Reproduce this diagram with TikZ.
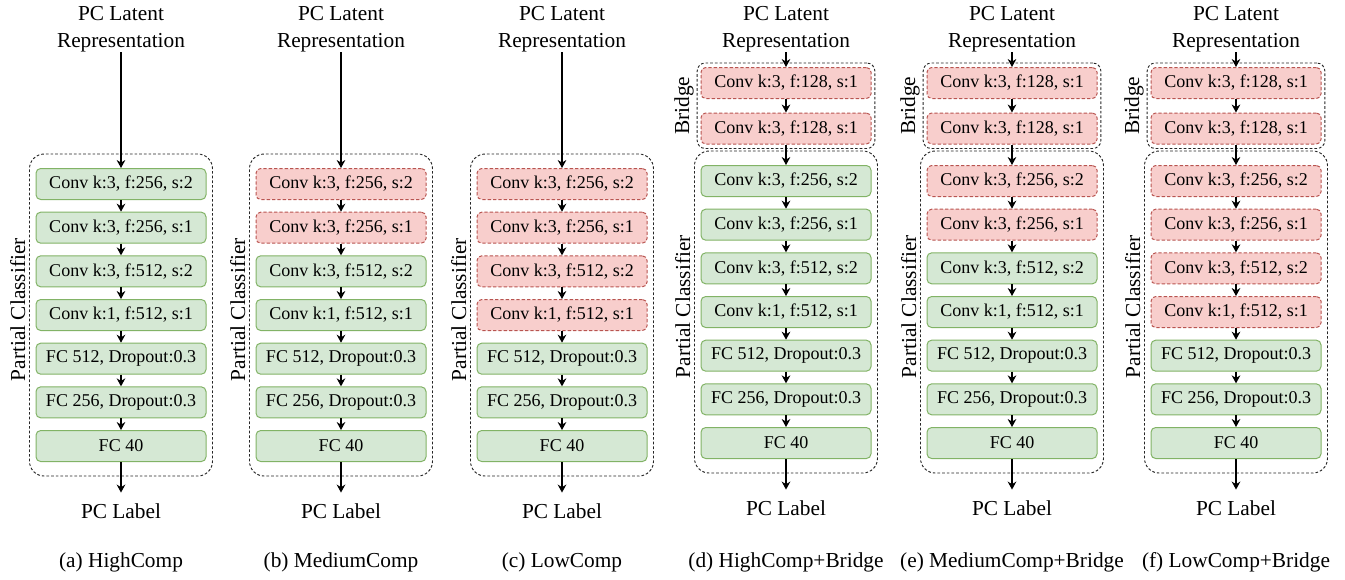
\documentclass[tikz,border=0pt]{standalone}
\usepackage{fontspec}
\setmainfont{Liberation Serif}
\usetikzlibrary{arrows.meta,positioning,fit}
\definecolor{lyrgreen}{HTML}{82B366}
\definecolor{lyrgfill}{HTML}{D5E8D4}
\definecolor{lyrred}{HTML}{B85450}
\definecolor{lyrrfill}{HTML}{F8CECC}
\begin{document}
\begin{tikzpicture}[x=0.75pt,y=-0.75pt,>={Stealth[length=6pt,width=6.5pt]},
 font=\fontsize{16}{20}\selectfont,
 lyr/.style={draw=lyrgreen,fill=lyrgfill,line width=0.75pt,rounded corners=3.5pt,minimum width=127.5pt,minimum height=23.25pt,inner sep=0pt,font=\fontsize{13.5}{16}\selectfont},
 cut/.style={lyr,draw=lyrred,fill=lyrrfill,dash pattern=on 2.5pt off 1.5pt},
 grp/.style={draw=black!85,line width=0.7pt,dash pattern=on 2pt off 1.5pt,rounded corners=11pt,inner xsep=4.5pt,inner ysep=10.5pt},
 brg/.style={grp,rounded corners=6pt,inner xsep=2.5pt,inner ysep=3pt},
 txt/.style={inner sep=0pt,align=center},
 side/.style={rotate=90,anchor=south,inner sep=2.5pt},
 flow/.style={->,line width=0.9pt}]
\useasboundingbox (0,0) rectangle (1345,579);
\foreach \cx/\nred/\hasbr/\capt [count=\col] in {121/0/0/{(a) HighComp},341/2/0/{(b) MediumComp},562/4/0/{(c) LowComp},786/0/1/{(d) HighComp+Bridge},1012/2/1/{(e) MediumComp+Bridge},1236/4/1/{(f) LowComp+Bridge}}{
  \pgfmathsetmacro\yz{184-3*\hasbr}
  \node[txt,anchor=south] (in\col) at (\cx,52) {PC Latent\\Representation};
  % partial classifier, first \nred layers are cut
  \foreach \lname [count=\j] in {{Conv k:3, f:256, s:2},{Conv k:3, f:256, s:1},{Conv k:3, f:512, s:2},{Conv k:1, f:512, s:1},{FC 512, Dropout:0.3},{FC 256, Dropout:0.3},{FC 40}}{
    \ifnum\j>\nred \def\lsty{lyr}\else\def\lsty{cut}\fi
    \node[\lsty] (l\col-\j) at (\cx,{\yz+(\j-1)*43.67}) {\lname};
  }
  \foreach \j [evaluate=\j as \k using int(\j+1)] in {1,...,6}
    \draw[flow] (l\col-\j) -- (l\col-\k);
  \node[grp,fit=(l\col-1)(l\col-7)] (pc\col) {};
  \node[side] (pcl\col) at ([yshift=4pt]pc\col.west) {Partial Classifier};
  % bridge
  \ifnum\hasbr=1
    \node[cut] (b\col-1) at (\cx,83) {Conv k:3, f:128, s:1};
    \node[cut] (b\col-2) at (\cx,128.5) {Conv k:3, f:128, s:1};
    \node[brg,fit=(b\col-1)(b\col-2)] (br\col) {};
    \node[side,inner sep=2pt] (brl\col) at (br\col.west) {Bridge};
    \draw[flow] (in\col) -- (b\col-1);
    \draw[flow] (b\col-1) -- (b\col-2);
    \draw[flow] (b\col-2) -- (l\col-1);
  \else
    \draw[flow] (in\col) -- (l\col-1);
  \fi
  \node[txt,inner ysep=8pt] (out\col) at (\cx,{\yz+327}) {PC Label};
  \draw[flow] (l\col-7) -- (out\col);
  \node[txt] (cap\col) at (\cx,562) {\capt};
}
\end{tikzpicture}
\end{document}
